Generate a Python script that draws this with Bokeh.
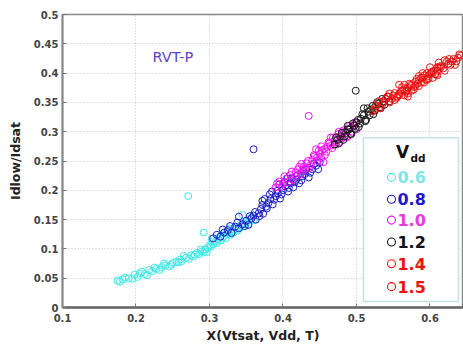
from bokeh.plotting import figure
from bokeh.models import Range1d, FixedTicker, CustomJSTickFormatter, Label, BoxAnnotation
from bokeh.embed import file_html
from bokeh.resources import INLINE

# ---- data ----
vdd_labels = ["0.6", "0.8", "1.0", "1.2", "1.4", "1.5"]
marker_colors = ["#3ae8e8", "#1c1cc8", "#f010f0", "#151515", "#ff1414", "#e01010"]
text_colors = ["#80e6e6", "#1a1ad0", "#e83ad8", "#111111", "#ee1111", "#ee1111"]

x06 = [0.175, 0.178, 0.182, 0.19, 0.198, 0.202, 0.205, 0.212, 0.218, 0.222, 0.228, 0.235, 0.24, 0.245,
       0.25, 0.255, 0.26, 0.262, 0.268, 0.272, 0.275, 0.28, 0.283, 0.286, 0.29, 0.292, 0.295, 0.298,
       0.30, 0.302, 0.305, 0.308, 0.31, 0.312, 0.315, 0.318, 0.32, 0.322, 0.325, 0.328, 0.33, 0.333,
       0.336, 0.34, 0.343, 0.346, 0.35, 0.355, 0.271, 0.292, 0.345,
       0.185, 0.195, 0.208, 0.215, 0.225, 0.232, 0.238, 0.248, 0.258, 0.265, 0.278, 0.288, 0.296, 0.304,
       0.314, 0.324, 0.332, 0.338, 0.348, 0.352, 0.358, 0.36, 0.303, 0.317, 0.327]
y06 = [0.046, 0.044, 0.048, 0.050, 0.056, 0.052, 0.058, 0.057, 0.064, 0.062, 0.066, 0.069, 0.072, 0.070,
       0.076, 0.078, 0.082, 0.079, 0.085, 0.083, 0.089, 0.090, 0.093, 0.091, 0.096, 0.094, 0.099, 0.102,
       0.106, 0.104, 0.108, 0.112, 0.110, 0.116, 0.114, 0.119, 0.122, 0.118, 0.126, 0.124, 0.130, 0.128,
       0.134, 0.137, 0.141, 0.138, 0.146, 0.150, 0.190, 0.128, 0.158,
       0.051, 0.049, 0.061, 0.055, 0.068, 0.064, 0.075, 0.073, 0.077, 0.088, 0.087, 0.099, 0.094, 0.113,
       0.121, 0.129, 0.133, 0.131, 0.143, 0.141, 0.155, 0.149, 0.117, 0.125, 0.135]

x08 = [0.305, 0.31, 0.315, 0.32, 0.325, 0.33, 0.335, 0.34, 0.345, 0.35, 0.353, 0.357, 0.36, 0.363,
       0.367, 0.37, 0.373, 0.377, 0.38, 0.383, 0.386, 0.39, 0.393, 0.396, 0.40, 0.403, 0.407, 0.41,
       0.414, 0.418, 0.422, 0.426, 0.43, 0.435, 0.44, 0.445, 0.36, 0.34, 0.375, 0.395,
       0.318, 0.328, 0.338, 0.348, 0.355, 0.362, 0.368, 0.372, 0.378, 0.382, 0.388, 0.392, 0.398, 0.402,
       0.408, 0.412, 0.416, 0.42, 0.425, 0.428, 0.432, 0.437, 0.442, 0.448, 0.45, 0.372, 0.385, 0.406]
y08 = [0.118, 0.124, 0.121, 0.128, 0.132, 0.127, 0.138, 0.135, 0.142, 0.148, 0.141, 0.152, 0.157, 0.150,
       0.161, 0.168, 0.160, 0.172, 0.178, 0.185, 0.176, 0.190, 0.195, 0.186, 0.200, 0.207, 0.198, 0.212,
       0.205, 0.218, 0.212, 0.224, 0.228, 0.222, 0.236, 0.242, 0.270, 0.155, 0.185, 0.210,
       0.133, 0.139, 0.145, 0.139, 0.156, 0.163, 0.156, 0.175, 0.169, 0.193, 0.184, 0.199, 0.193, 0.214,
       0.204, 0.220, 0.214, 0.226, 0.217, 0.233, 0.236, 0.230, 0.245, 0.236, 0.248, 0.182, 0.198, 0.220]

x10 = [0.39, 0.395, 0.40, 0.405, 0.41, 0.413, 0.417, 0.42, 0.424, 0.428, 0.432, 0.436, 0.44, 0.443,
       0.447, 0.45, 0.453, 0.457, 0.46, 0.463, 0.467, 0.47, 0.473, 0.477, 0.48, 0.484, 0.488, 0.492,
       0.496, 0.50, 0.435, 0.445, 0.465, 0.455,
       0.392, 0.398, 0.402, 0.408, 0.412, 0.418, 0.422, 0.426, 0.43, 0.434, 0.438, 0.442, 0.446, 0.449,
       0.452, 0.456, 0.459, 0.462, 0.465, 0.468, 0.472, 0.475, 0.479, 0.482, 0.486, 0.49, 0.494, 0.498,
       0.425, 0.452, 0.476]
y10 = [0.205, 0.215, 0.212, 0.220, 0.226, 0.218, 0.230, 0.235, 0.228, 0.240, 0.246, 0.238, 0.252, 0.258,
       0.250, 0.262, 0.268, 0.260, 0.274, 0.280, 0.272, 0.285, 0.290, 0.282, 0.296, 0.300, 0.292, 0.306,
       0.311, 0.304, 0.327, 0.270, 0.290, 0.248,
       0.212, 0.206, 0.224, 0.214, 0.232, 0.224, 0.240, 0.234, 0.236, 0.250, 0.244, 0.260, 0.256, 0.268,
       0.255, 0.270, 0.266, 0.282, 0.276, 0.290, 0.278, 0.296, 0.288, 0.302, 0.290, 0.310, 0.300, 0.316,
       0.245, 0.275, 0.300]

x12 = [0.47, 0.474, 0.478, 0.482, 0.486, 0.49, 0.493, 0.497, 0.50, 0.503, 0.506, 0.51, 0.513, 0.516,
       0.52, 0.523, 0.526, 0.53, 0.533, 0.537, 0.54, 0.499, 0.488, 0.51,
       0.472, 0.476, 0.48, 0.484, 0.488, 0.492, 0.495, 0.498, 0.502, 0.505, 0.508, 0.512, 0.515, 0.518,
       0.522, 0.525, 0.528, 0.532, 0.535, 0.538, 0.543, 0.545]
y12 = [0.278, 0.286, 0.292, 0.286, 0.298, 0.304, 0.296, 0.310, 0.316, 0.308, 0.322, 0.328, 0.320, 0.334,
       0.338, 0.330, 0.344, 0.348, 0.340, 0.352, 0.356, 0.370, 0.310, 0.340,
       0.290, 0.280, 0.298, 0.292, 0.304, 0.296, 0.314, 0.305, 0.320, 0.314, 0.330, 0.318, 0.340, 0.328,
       0.344, 0.336, 0.350, 0.342, 0.356, 0.346, 0.360, 0.352]

x14 = [0.522, 0.527, 0.532, 0.536, 0.54, 0.545, 0.55, 0.555, 0.56, 0.565, 0.57, 0.575, 0.58, 0.585,
       0.59, 0.595, 0.60, 0.605, 0.61, 0.558, 0.575, 0.59,
       0.525, 0.53, 0.535, 0.542, 0.548, 0.552, 0.558, 0.562, 0.568, 0.572, 0.578, 0.582, 0.588, 0.592,
       0.598, 0.602, 0.608, 0.612, 0.545, 0.565, 0.585]
y14 = [0.335, 0.345, 0.340, 0.350, 0.356, 0.350, 0.362, 0.358, 0.368, 0.372, 0.365, 0.378, 0.385, 0.378,
       0.392, 0.388, 0.398, 0.404, 0.396, 0.380, 0.370, 0.400,
       0.338, 0.352, 0.346, 0.360, 0.356, 0.366, 0.362, 0.376, 0.370, 0.382, 0.376, 0.390, 0.384, 0.396,
       0.390, 0.402, 0.398, 0.410, 0.365, 0.380, 0.395]

x15 = [0.552, 0.558, 0.565, 0.57, 0.578, 0.585, 0.592, 0.598, 0.604, 0.61, 0.615, 0.62, 0.625, 0.63,
       0.634, 0.638, 0.64, 0.612, 0.60, 0.62, 0.57,
       0.555, 0.562, 0.568, 0.574, 0.58, 0.588, 0.595, 0.602, 0.607, 0.614, 0.618, 0.623, 0.628, 0.632,
       0.636, 0.642, 0.583, 0.596, 0.61, 0.626]
y15 = [0.354, 0.364, 0.362, 0.375, 0.372, 0.388, 0.384, 0.395, 0.392, 0.404, 0.410, 0.404, 0.416, 0.420,
       0.414, 0.426, 0.432, 0.418, 0.410, 0.422, 0.360,
       0.360, 0.370, 0.368, 0.380, 0.378, 0.392, 0.390, 0.400, 0.398, 0.412, 0.408, 0.420, 0.414, 0.424,
       0.420, 0.430, 0.382, 0.400, 0.410, 0.424]

xs_all = [x06, x08, x10, x12, x14, x15]
ys_all = [y06, y08, y10, y12, y14, y15]

x_ticks = [0.1, 0.2, 0.3, 0.4, 0.5, 0.6]
y_ticks = [0, 0.05, 0.1, 0.15, 0.2, 0.25, 0.3, 0.35, 0.4, 0.45, 0.5]

# ---- figure ----
FONT = "DejaVu Sans"
p = figure(width=463, height=345, output_backend="svg", toolbar_location=None,
           x_range=Range1d(0.1, 0.6456), y_range=Range1d(0, 0.5),
           min_border_left=62, min_border_right=0, min_border_top=14, min_border_bottom=35)
p.background_fill_color = "white"
p.border_fill_color = "white"
p.outline_line_color = "#888888"
p.outline_line_width = 1.5

for ax in (p.xaxis[0], p.yaxis[0]):
    ax.major_tick_in = 4
    ax.major_tick_out = 0
    ax.minor_tick_line_color = None
    ax.major_tick_line_color = "#777777"
    ax.major_label_text_font = FONT
    ax.major_label_text_font_style = "bold"
    ax.major_label_text_font_size = "10px"
    ax.major_label_text_color = "#444444"
    ax.axis_label_text_font = FONT
    ax.axis_label_text_font_style = "bold"
    ax.axis_label_text_font_size = "12.5px"
    ax.axis_label_text_color = "#222222"

p.xaxis.ticker = FixedTicker(ticks=x_ticks)
p.yaxis.ticker = FixedTicker(ticks=y_ticks)
p.xaxis.formatter = CustomJSTickFormatter(code="return tick.toFixed(1);")
p.yaxis.formatter = CustomJSTickFormatter(
    code="var s = tick.toFixed(2); s = s.replace(/0+$/, ''); s = s.replace(/\\.$/, ''); return s;")
p.xaxis.axis_label = "X(Vtsat, Vdd, T)"
p.yaxis.axis_label = "Idlow/Idsat"
p.xaxis.axis_line_color = "#666666"
p.xaxis.axis_line_width = 2.5
p.yaxis.axis_line_color = "#888888"
p.yaxis.axis_line_width = 2
p.xaxis.major_label_standoff = 6
p.yaxis.major_label_standoff = 4
p.xaxis.axis_label_standoff = 3
p.yaxis.axis_label_standoff = 8

p.grid.grid_line_color = "#c4c4c4"
p.grid.grid_line_dash = "1 2"
p.grid.grid_line_width = 1
p.xgrid.ticker = FixedTicker(ticks=x_ticks)
p.ygrid.ticker = FixedTicker(ticks=y_ticks)

for xs, ys, c in zip(xs_all, ys_all, marker_colors):
    p.scatter(xs, ys, marker="circle", size=7, fill_color=None, line_color=c, line_width=1)

# helpers to place annotations by picture pixel
def dx(px):
    return 0.1 + (px - 62) / 735.0

def dy(py):
    return (309 - py) / 590.0

p.add_layout(Label(x=dx(152), y=dy(65), text="RVT-P", text_font=FONT, text_font_size="14.5px",
                   text_color="#5a45c8"))

# legend box
p.add_layout(BoxAnnotation(left=dx(363), right=dx(458), top=dy(138), bottom=dy(303),
                           fill_color="white", fill_alpha=1.0, line_color="#3aa597", line_width=1.5,
                           level="annotation"))
p.add_layout(Label(x=dx(402), y=dy(163), text="V", text_font=FONT, text_font_style="bold",
                   text_font_size="17px", text_color="#111111", text_align="center", level="overlay"))
p.add_layout(Label(x=dx(410), y=dy(165), text="dd", text_font=FONT, text_font_style="bold",
                   text_font_size="10.5px", text_color="#111111", level="overlay"))

row_y = [178, 200, 221, 243, 265, 288]
for lab, mc, tc, ry in zip(vdd_labels, marker_colors, text_colors, row_y):
    p.scatter([dx(391)], [dy(ry)], marker="circle", size=8, fill_color=None, line_color=mc,
              line_width=1.1, level="overlay")
    p.add_layout(Label(x=dx(397), y=dy(ry), text=lab, text_font=FONT, text_font_style="bold",
                       text_font_size="16px", text_color=tc, text_baseline="middle", level="overlay"))

open("out.html", "w").write(file_html(p, INLINE))
